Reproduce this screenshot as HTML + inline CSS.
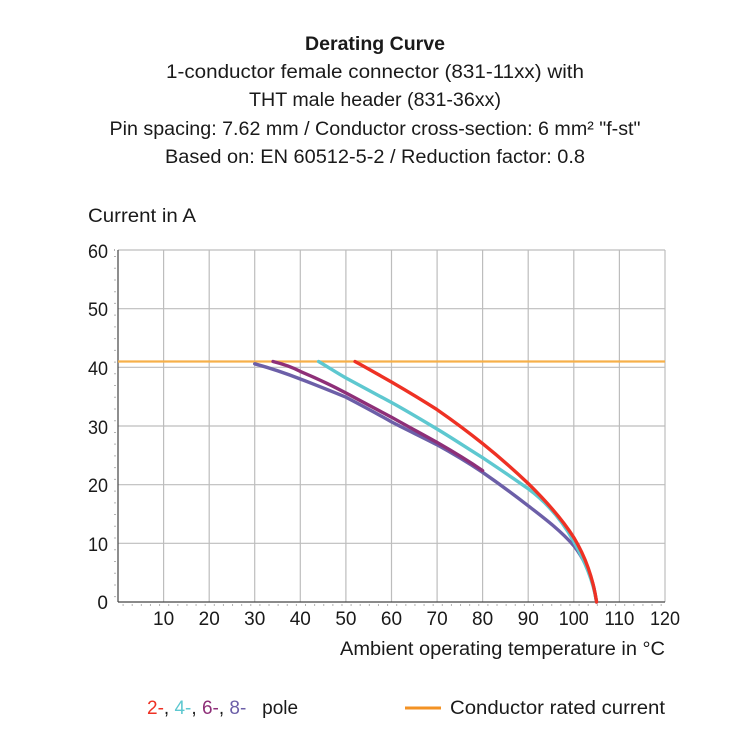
<!DOCTYPE html>
<html><head><meta charset="utf-8"><style>body{margin:0;background:#fff}svg{display:block}</style></head><body>
<svg width="750" height="750" xmlns="http://www.w3.org/2000/svg" font-family="Liberation Sans, sans-serif" fill="#1a1a1a">
<g font-size="19" text-anchor="middle">
<text x="375" y="50" font-weight="bold" textLength="140" lengthAdjust="spacingAndGlyphs">Derating Curve</text>
<text x="375" y="78" textLength="418" lengthAdjust="spacingAndGlyphs">1-conductor female connector (831-11xx) with</text>
<text x="375" y="106" textLength="252" lengthAdjust="spacingAndGlyphs">THT male header (831-36xx)</text>
<text x="375" y="135" textLength="531" lengthAdjust="spacingAndGlyphs">Pin spacing: 7.62 mm / Conductor cross-section: 6 mm² "f-st"</text>
<text x="375" y="163" textLength="420" lengthAdjust="spacingAndGlyphs">Based on: EN 60512-5-2 / Reduction factor: 0.8</text>
</g>
<text x="88" y="222" font-size="19" textLength="108" lengthAdjust="spacingAndGlyphs">Current in A</text>
<g stroke="#bdbdbd" stroke-width="1.2">
<line x1="163.6" y1="250" x2="163.6" y2="602"/><line x1="209.2" y1="250" x2="209.2" y2="602"/><line x1="254.7" y1="250" x2="254.7" y2="602"/><line x1="300.3" y1="250" x2="300.3" y2="602"/><line x1="345.9" y1="250" x2="345.9" y2="602"/><line x1="391.5" y1="250" x2="391.5" y2="602"/><line x1="437.1" y1="250" x2="437.1" y2="602"/><line x1="482.6" y1="250" x2="482.6" y2="602"/><line x1="528.2" y1="250" x2="528.2" y2="602"/><line x1="573.8" y1="250" x2="573.8" y2="602"/><line x1="619.4" y1="250" x2="619.4" y2="602"/><line x1="665" y1="250" x2="665" y2="602"/>
<line x1="118" y1="250" x2="665" y2="250"/><line x1="118" y1="308.7" x2="665" y2="308.7"/><line x1="118" y1="367.3" x2="665" y2="367.3"/><line x1="118" y1="426" x2="665" y2="426"/><line x1="118" y1="484.7" x2="665" y2="484.7"/><line x1="118" y1="543.3" x2="665" y2="543.3"/>
</g>
<g stroke="#444" stroke-width="1.2">
<line x1="118" y1="250" x2="118" y2="602"/><line x1="118" y1="602" x2="665" y2="602"/>
</g>
<g stroke="#666" stroke-width="1" stroke-dasharray="1 10.73">
<line x1="114" y1="250" x2="118" y2="250"/>
<line x1="115" y1="256" x2="115" y2="602"/>
</g>
<g stroke="#666" stroke-width="1" stroke-dasharray="1 8.12">
<line x1="122.6" y1="605" x2="665" y2="605"/>
</g>
<g font-size="19" text-anchor="end">
<text x="108" y="258" textLength="20" lengthAdjust="spacingAndGlyphs">60</text><text x="108" y="316" textLength="20" lengthAdjust="spacingAndGlyphs">50</text><text x="108" y="375" textLength="20" lengthAdjust="spacingAndGlyphs">40</text><text x="108" y="434" textLength="20" lengthAdjust="spacingAndGlyphs">30</text><text x="108" y="492" textLength="20" lengthAdjust="spacingAndGlyphs">20</text><text x="108" y="551" textLength="20" lengthAdjust="spacingAndGlyphs">10</text><text x="108" y="609">0</text>
</g>
<g font-size="19" text-anchor="middle">
<text x="163.6" y="625">10</text><text x="209.2" y="625">20</text><text x="254.7" y="625">30</text><text x="300.3" y="625">40</text><text x="345.9" y="625">50</text><text x="391.5" y="625">60</text><text x="437.1" y="625">70</text><text x="482.6" y="625">80</text><text x="528.2" y="625">90</text><text x="573.8" y="625" textLength="30" lengthAdjust="spacingAndGlyphs">100</text><text x="619.4" y="625" textLength="30" lengthAdjust="spacingAndGlyphs">110</text><text x="665" y="625" textLength="30" lengthAdjust="spacingAndGlyphs">120</text>
</g>
<text x="340" y="655" font-size="19" textLength="325" lengthAdjust="spacingAndGlyphs">Ambient operating temperature in °C</text>
<line x1="118" y1="361.5" x2="665" y2="361.5" stroke="#f6b04a" stroke-width="2.2"/>
<g fill="none" stroke-width="3.4" stroke-linejoin="round" stroke-linecap="round">
<path stroke="#6c5fa8" d="M254.7,363.8 C270,368 285,373 300.3,379 C316,385 331,391 346,397.2 C361,405 376,413 391.5,421.9 C407,430 422,437 437,444.8 C452,453 467,462 482.6,472.3 C498,483 513,494 528.2,505.8 C544,518 560,530 573.8,545.7 C585,560 591,576 594,588 L596.6,602"/>
<path stroke="#8e2f78" d="M273,361.5 C283,364 292,367 300.3,371.4 C316,378 331,385 346,393 C361,401 376,409 391.5,417.2 C407,426 422,434 437,442.4 C452,451 467,460 482.6,470.6"/>
<path stroke="#5ec8d0" d="M318.6,361.5 C328,367 337,373 346,378 C361,386 376,394 391.5,402.5 C407,411 422,420 437,429 C452,438 467,448 482.6,457.7 C498,468 513,478 528.2,488.8 C546,502 562,520 573.8,541.6 C585,562 593,580 596.6,602"/>
<path stroke="#ee3124" d="M355,361.5 C367,368 379,375 391.5,382 C407,391 422,400 437,409.6 C452,420 467,431 482.6,443.6 C498,456 513,469 528.2,483.5 C548,503 564,522 573.8,537.5 C585,556 593,578 596.6,602"/>
</g>
<text x="147" y="714" font-size="19" xml:space="preserve"><tspan fill="#ee3124">2-</tspan>, <tspan fill="#5ec8d0">4-</tspan>, <tspan fill="#8e2f78">6-</tspan>, <tspan fill="#6c5fa8">8-</tspan>   pole</text>
<line x1="405" y1="708" x2="441" y2="708" stroke="#f39224" stroke-width="3"/>
<text x="450" y="714" font-size="19" textLength="215" lengthAdjust="spacingAndGlyphs">Conductor rated current</text>
</svg>
</body></html>
